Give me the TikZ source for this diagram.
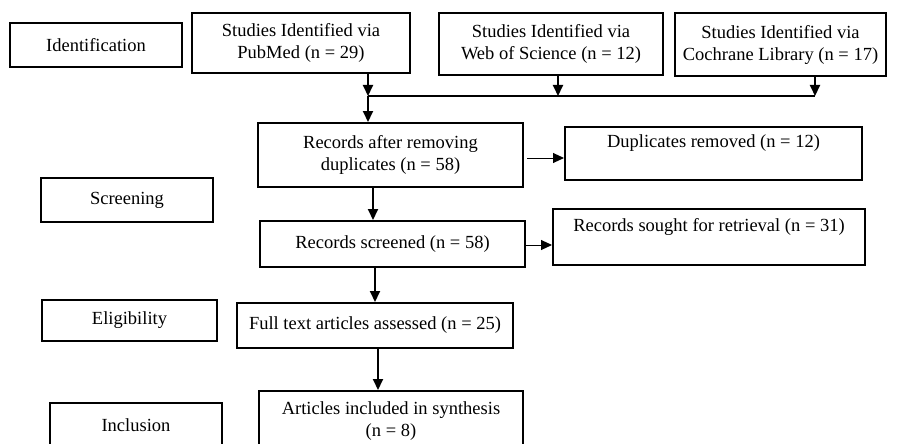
\documentclass[tikz,border=0pt]{standalone}
\usepackage{fontspec}
\setmainfont{Liberation Serif}
\usetikzlibrary{arrows.meta}

\begin{document}
\begin{tikzpicture}[x=1pt, y=-1pt, font=\fontsize{18.5}{22}\selectfont,
  box_style/.style={draw=black, line width=2pt, align=center, inner sep=0pt},
  upper_style/.style={text depth=24pt},
  edge_style/.style={draw=black, line width=2pt, -{Triangle[width=10pt,length=11pt]}},
  side_style/.style={draw=black, line width=1pt, -{Triangle[width=10pt,length=11pt]}}]
  \useasboundingbox (0,0) rectangle (897,444);
  \clip (0,0) rectangle (897,444);
      \draw
        (96.0, 45.0) node[box_style, minimum width=172, minimum height=44] (ident){Identification}
        (301.0, 43.0) node[box_style, minimum width=218, minimum height=60] (pubmed){Studies Identified via\\PubMed (n = 29)}
        (551.0, 44.0) node[box_style, minimum width=224, minimum height=62] (wos){Studies Identified via\\Web of Science (n = 12)}
        (780.5, 44.5) node[box_style, minimum width=211, minimum height=63] (cochrane){Studies Identified via\\Cochrane Library (n = 17)}
        (390.5, 155.0) node[box_style, minimum width=265, minimum height=64] (records){Records after removing\\duplicates (n = 58)}
        (713.5, 153.5) node[box_style, upper_style, minimum width=297, minimum height=53] (dup){Duplicates removed (n = 12)}
        (127.0, 200.0) node[box_style, minimum width=172, minimum height=44] (screening){Screening}
        (392.5, 244.0) node[box_style, minimum width=265, minimum height=46] (screened){Records screened (n = 58)}
        (709.0, 237.0) node[box_style, upper_style, minimum width=312, minimum height=56] (sought){Records sought for retrieval (n = 31)}
        (129.5, 320.5) node[box_style, minimum width=175, minimum height=41] (elig){Eligibility}
        (375.0, 325.5) node[box_style, minimum width=276, minimum height=45] (fulltext){Full text articles assessed (n = 25)}
        (136.0, 425.0) node[box_style, minimum width=172, minimum height=44] (incl){Inclusion}
        (391.0, 421.0) node[box_style, minimum width=264, minimum height=60] (articles){Articles included in synthesis\\(n = 8)};
      \coordinate (j1) at (368, 96);
      \coordinate (j2) at (558, 96);
      \coordinate (j3) at (815, 96);
      \draw[line width=2pt] (j1) to (j3);
      \draw[edge_style] (pubmed.south -| j1) to (j1);
      \draw[edge_style] (wos.south -| j2) to (j2);
      \draw[edge_style] (cochrane.south -| j3) to (j3);
      \draw[edge_style] (j1) to (records.north -| j1);
      \draw[side_style] ([shift={(3,3)}]records.east) to ([shift={(0,3)}]records.east -| dup.west);
      \draw[side_style] ([shift={(-2,1)}]screened.east) to ([shift={(0,1)}]screened.east -| sought.west);
      \draw[edge_style] ([xshift=-17.5]records.south) to ([xshift=-17.5]records.south |- screened.north);
      \draw[edge_style] (screened.south -| fulltext.north) to (fulltext.north);
      \draw[edge_style] ([xshift=3]fulltext.south) to ([xshift=3]fulltext.south |- articles.north);
\end{tikzpicture}
\end{document}
